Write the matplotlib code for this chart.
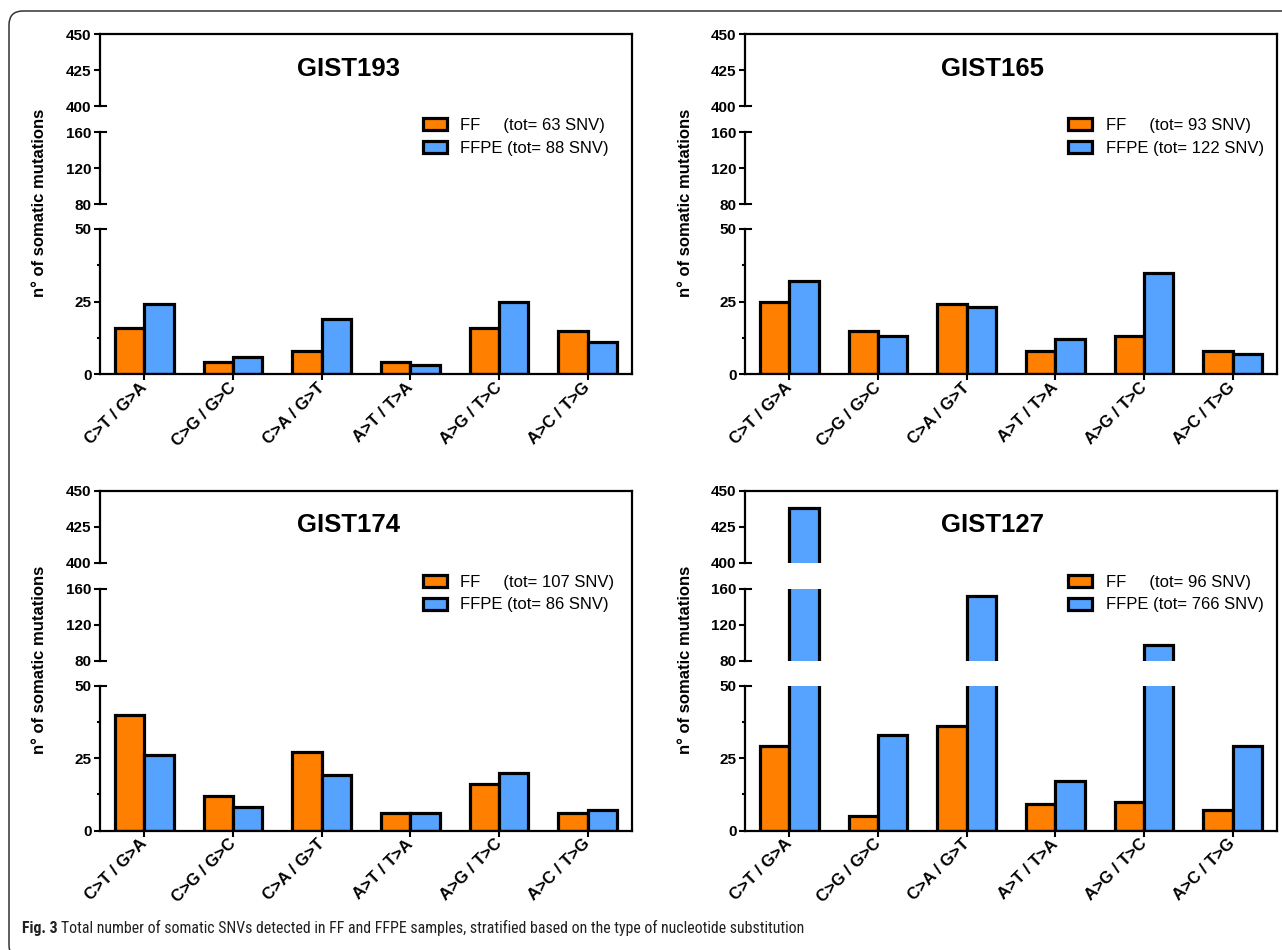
import numpy as np
import matplotlib
matplotlib.use("Agg")
import matplotlib.pyplot as plt
from matplotlib import font_manager as fm
from matplotlib.patches import FancyBboxPatch
from matplotlib.transforms import IdentityTransform

plt.rcParams['font.family'] = ['Liberation Sans', 'DejaVu Sans']

# data
categories = ["C>T / G>A", "C>G / G>C", "C>A / G>T", "A>T / T>A", "A>G / T>C", "A>C / T>G"]
samples = ["GIST193", "GIST165", "GIST174", "GIST127"]
ff_193 = [16, 4, 8, 4, 16, 15]
ffpe_193 = [24, 6, 19, 3, 25, 11]
ff_165 = [25, 15, 24, 8, 13, 8]
ffpe_165 = [32, 13, 23, 12, 35, 7]
ff_174 = [40, 12, 27, 6, 16, 6]
ffpe_174 = [26, 8, 19, 6, 20, 7]
ff_127 = [29, 5, 36, 9, 10, 7]
ffpe_127 = [438, 33, 152, 17, 97, 29]
ff_all = [ff_193, ff_165, ff_174, ff_127]
ffpe_all = [ffpe_193, ffpe_165, ffpe_174, ffpe_127]

ff_color = "#FF8000"
ffpe_color = "#55A2FF"

# layout in pixels
W, H = 1282, 950
axw = 532
panel_x = [100, 745, 100, 745]
panel_dy = [0, 0, 456.5, 456.5]
segments = [((400, 450), 34, 106, [400, 425, 450]),
            ((80, 160), 132, 204, [80, 120, 160]),
            ((0, 50), 229, 374, [0, 25, 50])]


def rect(x, y_top, w, h):
    return [x / W, 1 - (y_top + h) / H, w / W, h / H]


fig = plt.figure(figsize=(W / 100, H / 100), dpi=100)
x = np.arange(len(categories))
bw = 0.33

for i, name in enumerate(samples):
    px, dy = panel_x[i], panel_dy[i]
    ff, ffpe = ff_all[i], ffpe_all[i]

    # frame (top + right border)
    bg = fig.add_axes(rect(px, 34 + dy, axw, 374 - 34))
    bg.set_facecolor("none")
    bg.set_xticks([])
    bg.set_yticks([])
    for s in ["left", "bottom"]:
        bg.spines[s].set_visible(False)
    for s in ["top", "right"]:
        bg.spines[s].set_linewidth(1.6)

    for k, ((lo, hi), yt, yb, ticks) in enumerate(segments):
        ax = fig.add_axes(rect(px, yt + dy, axw, yb - yt))
        ax.set_facecolor("none")
        b1 = ax.bar(x - bw / 2, ff, bw, color=ff_color, edgecolor="black", linewidth=2.3)
        b2 = ax.bar(x + bw / 2, ffpe, bw, color=ffpe_color, edgecolor="black", linewidth=2.3)
        ax.set_xlim(-0.5, len(categories) - 0.5)
        ax.set_ylim(lo, hi)
        ax.spines["top"].set_visible(False)
        ax.spines["right"].set_visible(False)
        ax.spines["left"].set_linewidth(1.6)
        ax.set_yticks(ticks)
        ax.set_yticklabels([str(t) for t in ticks], fontweight="bold", fontsize=11)
        ax.tick_params(axis="y", direction="out", length=4, width=1.5, pad=2)
        # caps at segment ends
        for v in (lo, hi):
            if v in (0, 450):
                continue
            ax.plot([0, 0.011], [v, v], transform=ax.get_yaxis_transform(),
                    color="black", lw=1.5, clip_on=False)
        if k == 2:
            ax.spines["bottom"].set_linewidth(1.6)
            ax.set_xticks(x)
            ax.set_xticklabels(categories, rotation=45, ha="right", va="center",
                               rotation_mode="anchor", fontweight="bold", fontsize=12)
            ax.tick_params(axis="x", direction="out", length=4, width=1.5, pad=4)
            ax.set_yticks([12.5, 37.5], minor=True)
            ax.tick_params(axis="y", which="minor", direction="out", length=2, width=1.5)
            handles = [b1, b2]
        else:
            ax.spines["bottom"].set_visible(False)
            ax.set_xticks([])

    labels = [f"FF     (tot= {sum(ff)} SNV)", f"FFPE (tot= {sum(ffpe)} SNV)"]
    bg.legend(handles, labels, loc="upper left",
              bbox_to_anchor=((px + 323) / W, 1 - (118 + dy) / H),
              bbox_transform=fig.transFigure, frameon=False, borderpad=0,
              borderaxespad=0, handlelength=1.45, handleheight=0.7,
              handletextpad=0.8, labelspacing=0.48, fontsize=12)

    fig.text((px + 248) / W, 1 - (69 + dy) / H, name, ha="center", va="center",
             fontweight="bold", fontsize=18.5)
    fig.text((px - 60) / W, 1 - (203 + dy) / H, "n° of somatic mutations",
             rotation=90, ha="center", va="center", fontweight="bold", fontsize=12)

# caption, in a narrow face if one is installed
cap_font = {"family": ["Liberation Sans", "DejaVu Sans"]}
names = {f.name for f in fm.fontManager.ttflist}
for cand in ["Liberation Sans Narrow", "Roboto Condensed", "Open Sans Condensed"]:
    if cand in names:
        cap_font = {"family": [cand, "DejaVu Sans"]}
        break
else:
    if any(f.name == "DejaVu Sans" and "condensed" in str(f.stretch) for f in fm.fontManager.ttflist):
        cap_font = {"family": ["DejaVu Sans"], "stretch": "condensed"}

cap_y = 1 - 933 / H
cap_size = 15
t1 = fig.text(22 / W, cap_y, "Fig. 3", fontweight="bold", fontsize=cap_size,
              va="baseline", color="#231F20", **cap_font)
rest = "Total number of somatic SNVs detected in FF and FFPE samples, stratified based on the type of nucleotide substitution"
fig.canvas.draw()
r = fig.canvas.get_renderer()
e1 = t1.get_window_extent(r)
t2 = fig.text((e1.x1 + 5) / W, cap_y, rest, fontsize=cap_size, va="baseline",
              color="#231F20", **cap_font)
e2 = t2.get_window_extent(r)
scale = min(1.0, (810 - 22) / (e2.x1 - e1.x0))
if scale < 1.0:
    t1.set_fontsize(cap_size * scale)
    e1 = t1.get_window_extent(r)
    t2.set_fontsize(cap_size * scale)
    t2.set_x((e1.x1 + 5 * scale) / W)

# outer rounded frame
frame = FancyBboxPatch((9, -9), 1400, 950 - 11 + 9,
                       boxstyle="round,pad=0,rounding_size=14",
                       transform=IdentityTransform(), fill=False,
                       edgecolor="#333333", linewidth=1.1)
fig.patches.append(frame)

fig.savefig("out.png", dpi=100)
